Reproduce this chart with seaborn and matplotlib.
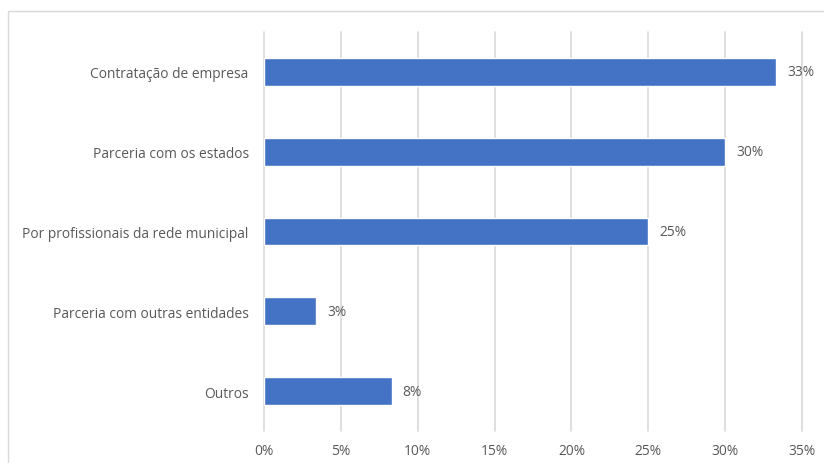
import matplotlib
matplotlib.use("Agg")
import matplotlib.pyplot as plt
from matplotlib.patches import Rectangle
from matplotlib.ticker import FuncFormatter
import seaborn as sns
import pandas as pd

categories = [
    "Contratação de empresa",
    "Parceria com os estados",
    "Por profissionais da rede municipal",
    "Parceria com outras entidades",
    "Outros",
]
shares = [0.333, 0.300, 0.250, 0.034, 0.083]
x_ticks = [0.00, 0.05, 0.10, 0.15, 0.20, 0.25, 0.30, 0.35]

df = pd.DataFrame({"categoria": categories, "share": shares})

sns.set_theme(style="white")
plt.rcParams["font.family"] = ["Open Sans", "DejaVu Sans"]

W, H = 824, 464
fig = plt.figure(figsize=(W / 100, H / 100), dpi=100)
ax = fig.add_axes([264 / W, (H - 432) / H, (802 - 264) / W, (432 - 33) / H])

bar_color = "#4472C4"
text_color = "#595959"
grid_color = "#D9D9D9"

sns.barplot(data=df, x="share", y="categoria", color=bar_color, width=0.35,
            saturation=1, ax=ax, orient="h")

ax.set_xlim(0, 0.35)
ax.set_xticks(x_ticks)
ax.xaxis.set_major_formatter(FuncFormatter(lambda v, _: f"{v * 100:.0f}%"))
ax.grid(axis="x", color=grid_color, linewidth=1.2)
for gl in ax.get_xgridlines():
    gl.set_clip_on(False)
ax.set_axisbelow(True)
for s in ax.spines.values():
    s.set_visible(False)
ax.set_xlabel("")
ax.set_ylabel("")
ax.tick_params(axis="both", length=0, labelsize=9.9, colors=text_color)
ax.tick_params(axis="x", pad=9)
ax.tick_params(axis="y", pad=11)

for i, v in enumerate(shares):
    ax.annotate(f"{v * 100:.0f}%", xy=(v, i), xytext=(8, 0),
                textcoords="offset points", va="center", ha="left",
                fontsize=9.9, color=text_color)

# chart frame
fig.patches.append(Rectangle((8 / W, -0.1), 1.0, (H - 12) / H + 0.1,
                             transform=fig.transFigure, fill=False,
                             edgecolor=grid_color, linewidth=1))

fig.savefig("out.png", dpi=100)
